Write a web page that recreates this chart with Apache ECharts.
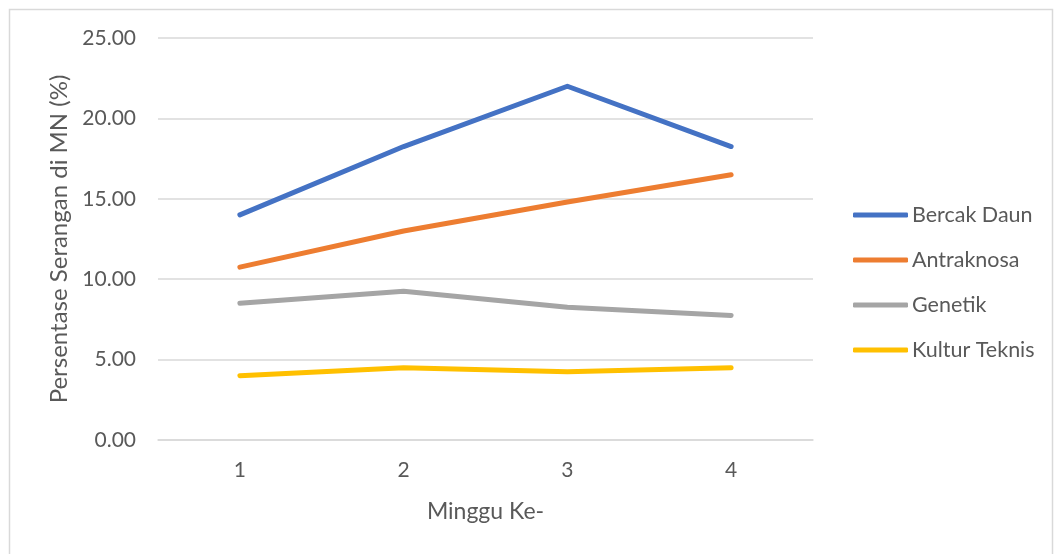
<!DOCTYPE html>
<html>
<head>
<meta charset="utf-8">
<script src="https://cdn.jsdelivr.net/npm/echarts@6/dist/echarts.min.js"></script>
<style>
html,body{margin:0;padding:0;background:#fff;}
#c{width:1057px;height:554px;}
</style>
</head>
<body>
<div id="c"></div>
<script>
const categories = ['1', '2', '3', '4'];
const bercakDaun = [14.0, 18.25, 22.0, 18.25];
const antraknosa = [10.75, 13.0, 14.8, 16.5];
const genetik = [8.5, 9.25, 8.25, 7.75];
const kulturTeknis = [4.0, 4.5, 4.25, 4.5];
const seriesNames = ['Bercak Daun', 'Antraknosa', 'Genetik', 'Kultur Teknis'];
const colors = ['#4472C4', '#ED7D31', '#A5A5A5', '#FFC000'];

const font = 'Lato, "Open Sans", sans-serif';
const chart = echarts.init(document.getElementById('c'));
const dataSets = [bercakDaun, antraknosa, genetik, kulturTeknis];
chart.setOption({
  animation: false,
  backgroundColor: '#fff',
  graphic: [{
    type: 'rect', left: 7, top: 7,
    shape: { width: 1043, height: 560 },
    style: { fill: 'none', stroke: '#D9D9D9', lineWidth: 1.5 },
    silent: true
  }],
  grid: { left: 158, right: 244, top: 38, bottom: 114 },
  legend: {
    orient: 'vertical',
    left: 848, top: 199,
    itemWidth: 55, itemHeight: 5,
    itemGap: 23,
    icon: 'roundRect',
    textStyle: { color: '#595959', fontSize: 21.5, fontFamily: font, lineHeight: 22, padding: [0, 0, 0, -1] },
    data: seriesNames
  },
  xAxis: {
    type: 'category',
    data: categories,
    boundaryGap: true,
    axisLine: { show: true, lineStyle: { color: '#D9D9D9', width: 1.5 } },
    axisTick: { show: false },
    axisLabel: { color: '#595959', fontSize: 21, fontFamily: font, margin: 20 },
    name: 'Minggu Ke-',
    nameLocation: 'middle',
    nameGap: 60,
    nameTextStyle: { color: '#595959', fontSize: 23, fontFamily: font }
  },
  yAxis: {
    type: 'value',
    min: 0, max: 25, interval: 5,
    axisLine: { show: false },
    axisTick: { show: false },
    splitLine: { lineStyle: { color: '#D9D9D9', width: 1.5 } },
    axisLabel: { color: '#595959', fontSize: 21, fontFamily: font, margin: 22,
      formatter: v => v.toFixed(2) },
    name: 'Persentase Serangan di MN (%)',
    nameLocation: 'middle',
    nameGap: 84,
    nameTextStyle: { color: '#595959', fontSize: 24, fontFamily: font }
  },
  series: seriesNames.map((n, i) => ({
    name: n,
    type: 'line',
    data: dataSets[i],
    symbol: 'none',
    color: colors[i],
    lineStyle: { width: 5, color: colors[i], cap: 'round', join: 'round' }
  }))
});
</script>
</body>
</html>
